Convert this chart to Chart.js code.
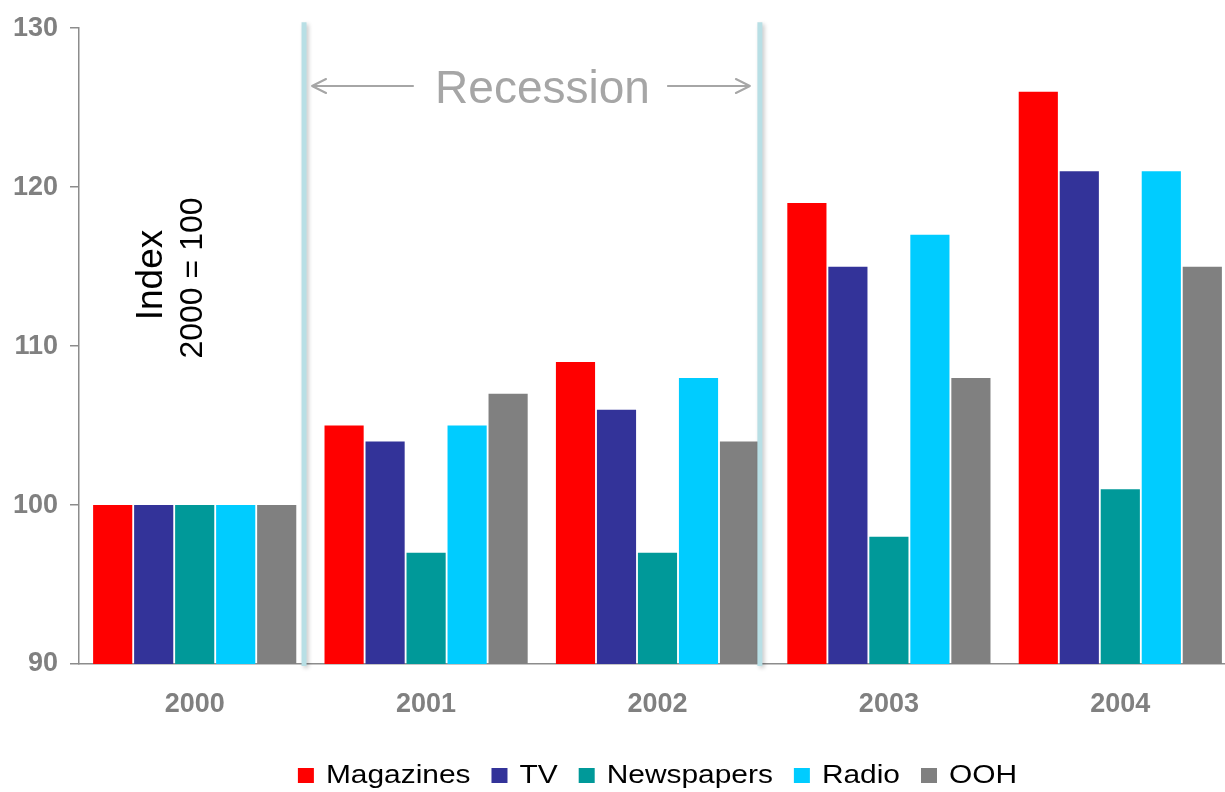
<!DOCTYPE html>
<html>
<head>
<meta charset="utf-8">
<script src="https://cdn.jsdelivr.net/npm/chart.js@4.4.1/dist/chart.umd.min.js"></script>
<style>
  html, body { margin: 0; padding: 0; background: #ffffff; overflow: hidden; width: 1225px; height: 792px; }
  #chart { display: block; }
</style>
</head>
<body>
<canvas id="chart" width="1240" height="792"></canvas>
<script>
// Advertising spend index by medium, 2000 = 100
const categories = ['2000', '2001', '2002', '2003', '2004'];
const magazines  = [100, 105, 109, 119, 126];
const tv         = [100, 104, 106, 115, 121];
const newspapers = [100, 97, 97, 98, 101];
const radio      = [100, 105, 108, 117, 121];
const ooh        = [100, 107, 104, 108, 115];
const yTicks     = [90, 100, 110, 120, 130];

const seriesNames  = ['Magazines', 'TV', 'Newspapers', 'Radio', 'OOH'];
const seriesValues = [magazines, tv, newspapers, radio, ooh];
const seriesColors = ['#ff0000', '#333399', '#009999', '#00ccff', '#808080'];

const AXIS_GRAY = '#8c8c8c';
const FONT = '"Liberation Sans", Arial, Helvetica, sans-serif';

// Recession band markers, explanatory label and the custom legend
const overlayPlugin = {
  id: 'overlay',
  afterDraw(chart) {
    const ctx = chart.ctx;
    const area = chart.chartArea;
    const w = area.right - area.left;

    // vertical recession boundaries
    const bounds = [area.left + w * 0.1945, area.left + w * 0.5885];
    ctx.save();
    ctx.strokeStyle = '#b8dfe5';
    ctx.lineWidth = 5;
    ctx.shadowColor = 'rgba(0,0,0,0.22)';
    ctx.shadowBlur = 4;
    ctx.shadowOffsetX = 2;
    ctx.shadowOffsetY = 2;
    bounds.forEach(x => {
      ctx.beginPath();
      ctx.moveTo(x, area.top - 6);
      ctx.lineTo(x, area.bottom + 2);
      ctx.stroke();
    });
    ctx.restore();

    // "Recession" label with arrows
    const yA = 86;
    ctx.save();
    ctx.strokeStyle = '#a6a6a6';
    ctx.fillStyle = '#a6a6a6';
    ctx.lineWidth = 2;
    ctx.lineCap = 'round';
    ctx.lineJoin = 'round';
    const l0 = bounds[0] + 8, l1 = l0 + 101;
    const r1 = bounds[1] - 10, r0 = r1 - 82;
    ctx.beginPath();
    ctx.moveTo(l1, yA); ctx.lineTo(l0, yA);
    ctx.moveTo(l0 + 14, yA - 7); ctx.lineTo(l0, yA); ctx.lineTo(l0 + 14, yA + 7);
    ctx.moveTo(r0, yA); ctx.lineTo(r1, yA);
    ctx.moveTo(r1 - 14, yA - 7); ctx.lineTo(r1, yA); ctx.lineTo(r1 - 14, yA + 7);
    ctx.stroke();
    ctx.font = '46px ' + FONT;
    ctx.textAlign = 'center';
    ctx.textBaseline = 'alphabetic';
    ctx.fillText('Recession', (l1 + r0) / 2 + 2, 103);
    ctx.restore();

    // rotated axis caption
    ctx.save();
    ctx.fillStyle = '#000000';
    ctx.textAlign = 'center';
    ctx.textBaseline = 'alphabetic';
    ctx.translate(162, 275);
    ctx.rotate(-Math.PI / 2);
    ctx.font = '37px ' + FONT;
    ctx.fillText('Index', 0, 0);
    ctx.restore();
    ctx.save();
    ctx.fillStyle = '#000000';
    ctx.textAlign = 'center';
    ctx.textBaseline = 'alphabetic';
    ctx.translate(202, 278);
    ctx.rotate(-Math.PI / 2);
    ctx.font = '32px ' + FONT;
    ctx.fillText('2000 = 100', 0, 0);
    ctx.restore();

    // legend row, centred under the plot area
    ctx.save();
    ctx.font = '26px ' + FONT;
    ctx.textBaseline = 'alphabetic';
    ctx.textAlign = 'left';
    const sx = 1.15, box = 16, boxH = 15, gapBox = 12, gapItem = 21;
    const items = chart.data.datasets.map(ds => ({
      ds, tw: ctx.measureText(ds.label).width * sx
    }));
    const total = items.reduce((s, it) => s + box + gapBox + it.tw, 0) + gapItem * (items.length - 1);
    let x = (area.left + area.right) / 2 - total / 2;
    items.forEach(({ ds, tw }) => {
      ctx.fillStyle = ds.backgroundColor;
      ctx.fillRect(x, 768, box, boxH);
      const tx = x + box + gapBox;
      ctx.save();
      ctx.translate(tx, 783);
      ctx.scale(sx, 1);
      ctx.fillStyle = '#000000';
      ctx.fillText(ds.label, 0, 0);
      ctx.restore();
      x = tx + tw + gapItem;
    });
    ctx.restore();
  }
};

new Chart(document.getElementById('chart'), {
  type: 'bar',
  data: {
    labels: categories,
    datasets: seriesNames.map((name, i) => ({
      label: name,
      data: seriesValues[i],
      backgroundColor: seriesColors[i],
      borderWidth: 0,
      categoryPercentage: 0.886,
      barPercentage: 0.955
    }))
  },
  options: {
    responsive: false,
    animation: false,
    devicePixelRatio: 1,
    layout: { padding: { top: 25, right: 4, bottom: 0, left: 0 } },
    plugins: {
      legend: { display: false },
      tooltip: { enabled: false }
    },
    scales: {
      x: {
        grid: { display: false, drawTicks: false },
        border: { display: true, color: AXIS_GRAY, width: 1.5 },
        ticks: {
          color: '#808080',
          font: { family: FONT, size: 27, weight: 'bold' },
          padding: 24,
          maxRotation: 0
        },
        afterFit(scale) { scale.height = 128; }
      },
      y: {
        min: 90,
        max: 130,
        afterBuildTicks(scale) { scale.ticks = yTicks.map(v => ({ value: v })); },
        grid: { drawOnChartArea: false, drawTicks: true, tickLength: 9, color: AXIS_GRAY, lineWidth: 1.5 },
        border: { display: true, color: AXIS_GRAY, width: 1.5 },
        ticks: {
          color: '#808080',
          font: { family: FONT, size: 27, weight: 'bold' },
          padding: 12
        },
        afterFit(scale) { scale.width = 79; }
      }
    }
  },
  plugins: [overlayPlugin]
});
</script>
</body>
</html>
